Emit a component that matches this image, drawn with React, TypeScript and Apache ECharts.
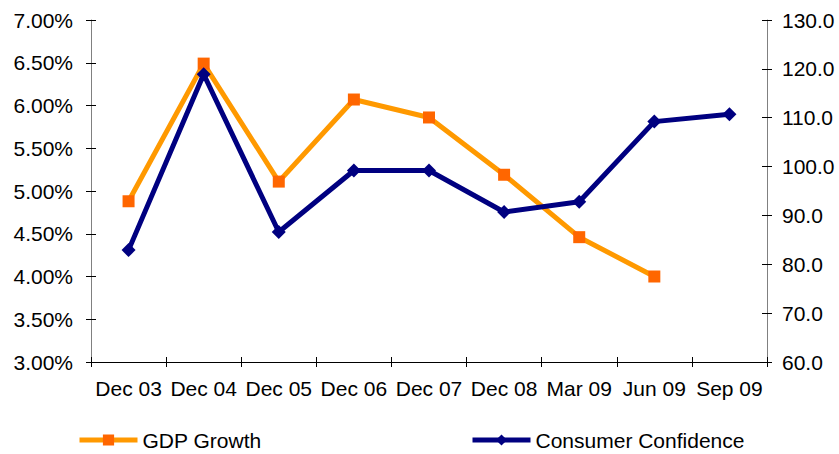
import React, { useEffect, useRef } from "react";
import * as echarts from "echarts";

const categories = ["Dec 03", "Dec 04", "Dec 05", "Dec 06", "Dec 07", "Dec 08", "Mar 09", "Jun 09", "Sep 09"];
const gdpGrowth = [4.88, 6.49, 5.11, 6.07, 5.86, 5.19, 4.46, 4.0, null];
const consumerConfidence = [82.9, 118.9, 86.6, 99.2, 99.2, 90.7, 92.8, 109.2, 110.7];
const leftTicks = { min: 3, max: 7, interval: 0.5 };
const rightTicks = { min: 60, max: 130, interval: 10 };

const FONT = "Liberation Sans, Arial, sans-serif";
const FS = 21;

export default function App() {
  const ref = useRef<HTMLDivElement>(null);
  useEffect(() => {
    document.body.style.margin = "0";
    if (!ref.current) return;
    const chart = echarts.init(ref.current, null, { renderer: "svg" });
    const tickStyle = { color: "#000", width: 1 };
    const legendBase = {
      top: 429,
      padding: 0,
      itemWidth: 58,
      itemHeight: 14,
      itemGap: 5,
      lineStyle: { width: 5 },
      textStyle: { fontFamily: FONT, fontSize: FS, color: "#000", lineHeight: 22 },
    };
    chart.setOption({
      animation: false,
      backgroundColor: "#fff",
      textStyle: { fontFamily: FONT },
      grid: { left: 91, right: 72, top: 20, bottom: 92, containLabel: false },
      legend: [
        { ...legendBase, data: ["GDP Growth"], left: 77 },
        { ...legendBase, data: ["Consumer Confidence"], left: 470 },
      ],
      xAxis: [
        {
          type: "category",
          data: categories,
          boundaryGap: true,
          axisLine: { lineStyle: { color: "#000", width: 1 } },
          axisTick: { show: true, inside: false, length: 5, lineStyle: tickStyle },
          axisLabel: { color: "#000", fontSize: FS, fontFamily: FONT, margin: 16, interval: 0 },
          splitLine: { show: false },
        },
        {
          type: "category",
          data: categories,
          position: "bottom",
          boundaryGap: true,
          axisLine: { show: false },
          axisTick: { show: true, inside: true, length: 5, lineStyle: tickStyle },
          axisLabel: { show: false },
          splitLine: { show: false },
        },
      ],
      yAxis: [
        {
          type: "value",
          position: "left",
          ...leftTicks,
          axisLine: { show: true, lineStyle: { color: "#808080", width: 1 } },
          axisTick: { show: true, inside: false, length: 5, lineStyle: tickStyle },
          axisLabel: {
            color: "#000",
            fontSize: FS,
            fontFamily: FONT,
            margin: 18,
            formatter: (v: number) => v.toFixed(2) + "%",
          },
          splitLine: { show: false },
        },
        {
          type: "value",
          position: "right",
          ...rightTicks,
          axisLine: { show: true, lineStyle: { color: "#808080", width: 1 } },
          axisTick: { show: true, inside: false, length: 5, lineStyle: tickStyle },
          axisLabel: {
            color: "#000",
            fontSize: FS,
            fontFamily: FONT,
            margin: 15,
            formatter: (v: number) => v.toFixed(1),
          },
          splitLine: { show: false },
        },
        {
          type: "value",
          position: "left",
          ...leftTicks,
          axisLine: { show: false },
          axisTick: { show: true, inside: true, length: 5, lineStyle: tickStyle },
          axisLabel: { show: false },
          splitLine: { show: false },
        },
        {
          type: "value",
          position: "right",
          ...rightTicks,
          axisLine: { show: false },
          axisTick: { show: true, inside: true, length: 5, lineStyle: tickStyle },
          axisLabel: { show: false },
          splitLine: { show: false },
        },
      ],
      series: [
        {
          name: "GDP Growth",
          type: "line",
          xAxisIndex: 0,
          yAxisIndex: 0,
          data: gdpGrowth,
          symbol: "rect",
          symbolSize: 12,
          showAllSymbol: true,
          lineStyle: { color: "#FF9900", width: 5 },
          itemStyle: { color: "#FF6600", borderWidth: 0 },
          z: 2,
        },
        {
          name: "Consumer Confidence",
          type: "line",
          xAxisIndex: 0,
          yAxisIndex: 1,
          data: consumerConfidence,
          symbol: "diamond",
          symbolSize: 14,
          showAllSymbol: true,
          lineStyle: { color: "#000080", width: 5 },
          itemStyle: { color: "#000080", borderWidth: 0 },
          z: 3,
        },
      ],
    });
    return () => chart.dispose();
  }, []);
  return <div ref={ref} style={{ width: 839, height: 454 }} />;
}
